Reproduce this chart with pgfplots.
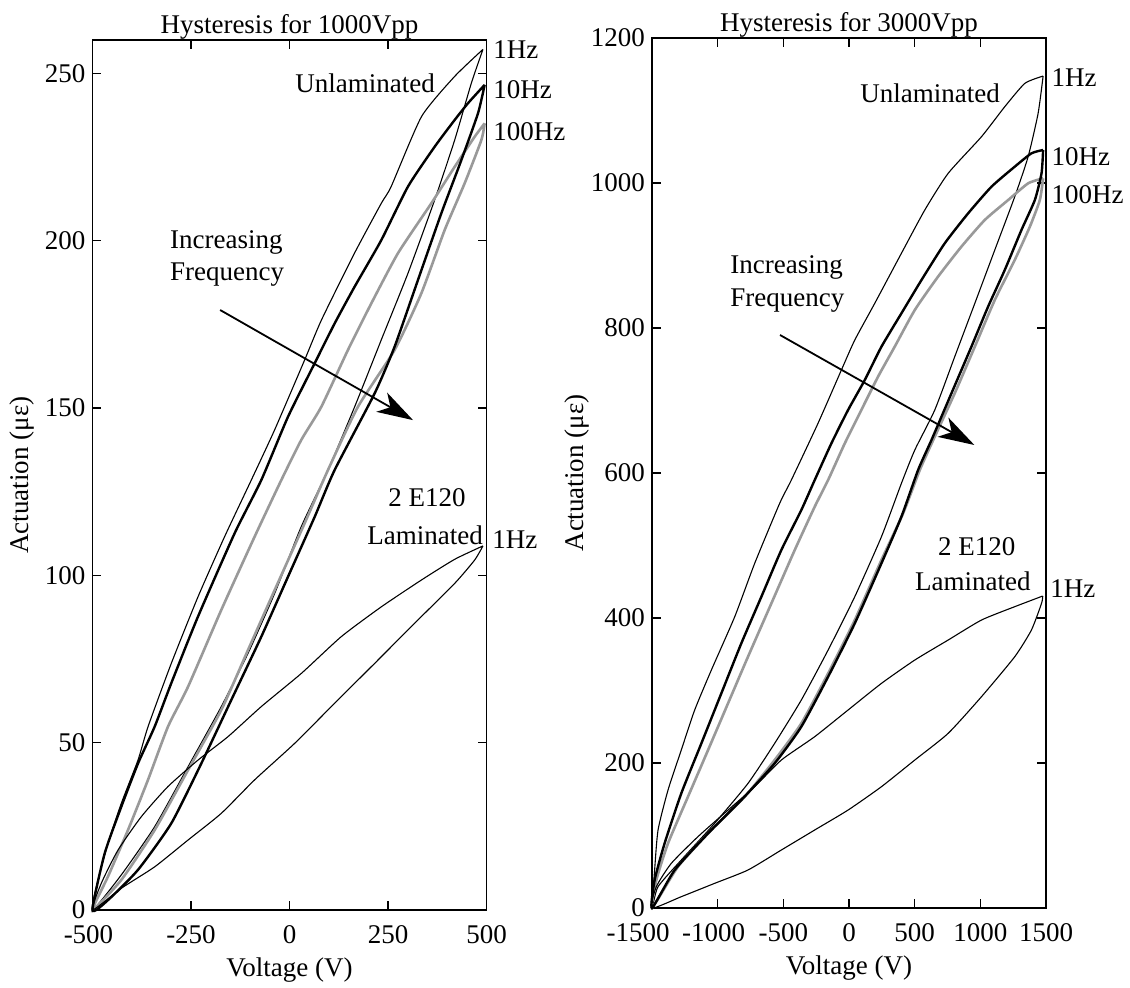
\documentclass[border=0pt]{standalone}
\usepackage{fontspec}
\setmainfont{Liberation Serif}
\usepackage{pgfplots}
\pgfplotsset{compat=1.18}
\usetikzlibrary{arrows.meta}
\newcommand{\fs}{\fontsize{13.5}{16}\selectfont}
\tikzset{lab/.style={font=\fs, inner sep=0pt}}
\pgfplotsset{
  hyst/.style={
    scale only axis, width=197pt, height=435pt, anchor=south west,
    clip=false,
    axis line style={line width=0.75pt},
    major tick style={line width=0.7pt, black},
    major tick length=4.5pt,
    tick align=inside,
    /pgf/number format/assume math mode=true,
    /pgf/number format/1000 sep={},
    tick label style={font=\fs},
    xticklabel style={yshift=-4pt},
    label style={font=\fs},
    every axis title shift=0pt,
    title style={font=\fs, at={(axis description cs:0.5,1)}, anchor=base, inner sep=0pt, yshift=3pt},
    xlabel style={at={(axis description cs:0.5,-0.069)}, anchor=center},
  },
  thinl/.style={black, line width=0.55pt, smooth, tension=0.35},
  thickl/.style={black, line width=1.2pt, smooth, tension=0.35},
  grayl/.style={black!40, line width=1.3pt, smooth, tension=0.35},
  arr/.style={black, line width=0.9pt, -{Stealth[length=18pt,width=11pt,inset=5pt]}},
}
\begin{document}
\begin{tikzpicture}
\useasboundingbox (0,0) rectangle (565pt,494pt);
% ---------------- Left panel ----------------
\begin{axis}[hyst, at={(46.25pt,39pt)},
  xmin=-500, xmax=500, ymin=0, ymax=260,
  xtick={-500,-250,0,250,500}, ytick={0,50,100,150,200,250},
  xticklabels={{-500\kern4pt},-250,0,250,500},
  title={Hysteresis for 1000Vpp},
  xlabel={Voltage (V)}, ylabel={Actuation (με)},
  ylabel style={at={(axis description cs:-0.179,0.5)}, anchor=center}]
% 1 Hz unlaminated
\addplot[thinl] coordinates {(491,257.2) (419,249.1) (335,237.1) (258,216.2) (233,211.2) (165,196.3) (81,176.3) (38.5,164.4) (-37.7,143.5) (-96.9,128.5) (-164.6,111.6) (-232.2,93.6) (-300,73.7) (-359,54.8) (-384.5,44.8) (-426.8,31.9) (-460.7,19.9) (-486,9.0) (-500,0)
 (-426.8,10.5) (-342.2,24.9) (-257.6,42.8) (-173,60.8) (-105.3,76.7) (-37.7,94.6) (30,114.6) (97.7,131.5) (165.4,150.4) (233,170.4) (300.7,190.3) (368.4,212.2) (419.2,230.1) (461.5,247.1) (491,257.2)};
% 100 Hz
\addplot[grayl] coordinates {(495.3,235.1) (470,231.1) (419.2,222.1) (360,211.2) (275.4,196.3) (207.7,181.3) (148.5,167.4) (80.8,150.4) (30,140.5) (-20.7,128.5) (-88.4,111.6) (-173,89.7) (-257.6,66.7) (-308.4,54.8) (-359.1,38.9) (-409.9,23.9) (-460.7,10.0) (-500,0)
 (-426.8,9.0) (-342.2,23.9) (-257.6,41.8) (-173,59.8) (-105.3,77.7) (-37.7,95.6) (38.5,115.6) (97.7,131.5) (173.8,150.4) (266.9,167.4) (334.6,184.3) (393.8,203.2) (444.6,217.2) (486.9,230.1) (495.3,235.1)};
% 10 Hz
\addplot[thickl] coordinates {(495.3,246.6) (453,241.1) (419.2,236.1) (368.4,228.1) (300.7,216.2) (233,200.2) (165.4,186.3) (114.6,175.3) (63.9,163.4) (-3.8,147.4) (-71.5,128.5) (-139.2,112.6) (-232.2,87.7) (-300,67.8) (-342.2,54.8) (-384.5,43.8) (-426.8,30.9) (-469.1,16.9) (-500,0)
 (-460.3,3.0) (-384.5,12.0) (-300,25.9) (-223.8,43.8) (-147.6,62.8) (-71.5,81.7) (-3.8,99.6) (63.9,117.5) (114.6,131.5) (216.1,154.4) (266.9,168.4) (326.1,188.3) (385.3,208.2) (436.1,224.1) (478.4,238.1) (495.3,246.6)};
% laminated 1 Hz
\addplot[thinl] coordinates {(491,108.8) (419.2,104.8) (334.6,98.6) (233,90.6) (131.5,81.7) (30,70.7) (-71.5,60.8) (-156.1,51.8) (-232.2,44.8) (-308.4,36.9) (-376,27.9) (-435.3,17.9) (-477.6,8.0) (-500,0)
 (-426.8,6.5) (-342.2,12.9) (-257.6,20.9) (-173,28.9) (-88.4,38.9) (13.1,49.8) (114.6,61.8) (216.1,73.7) (317.6,85.7) (419.2,97.6) (470,104.6) (491,108.8)};
% arrow
\addplot[arr] coordinates {(-176,179.3) (313.5,146.4)};
\node[lab] at (axis cs:191.6,247) {Unlaminated};
\node[lab, anchor=west] at (axis cs:516.5,257) {1Hz};
\node[lab, anchor=west] at (axis cs:516.5,245.1) {10Hz};
\node[lab, anchor=west] at (axis cs:516.5,232.5) {100Hz};
\node[lab, anchor=west, align=left] at (axis cs:-304,194.6) {Increasing\\Frequency};
\node[lab] at (axis cs:349,123.1) {2 E120};
\node[lab] at (axis cs:344,112.1) {Laminated};
\node[lab, anchor=west] at (axis cs:514,110.6) {1Hz};
\end{axis}
% ---------------- Right panel ----------------
\begin{axis}[hyst, at={(326pt,40pt)},
  xmin=-1500, xmax=1500, ymin=0, ymax=1200,
  xtick={-1500,-1000,-500,0,500,1000,1500}, ytick={0,200,400,600,800,1000,1200},
  xticklabels={{-1500\kern14pt},{-1000\kern4pt},-500,0,500,1000,1500},
  title={Hysteresis for 3000Vpp},
  xlabel={Voltage (V)}, ylabel={Actuation (με)},
  ylabel style={at={(axis description cs:-0.19,0.5)}, anchor=center}]
% 1 Hz unlaminated
\addplot[thinl] coordinates {(1478,1147.5) (1339,1137.4) (1186,1105.2) (1009,1063.9) (755,1013.3) (577,962.7) (399,903.0) (196,834.0) (44,783.4) (-58,742.0) (-236,668.5) (-439,590.3) (-528,558.1) (-718,475.4) (-870,401.8) (-1048,328.2) (-1175,273.1) (-1277,217.9) (-1378,162.7) (-1454,107.6) (-1480,52.4) (-1500,0)
 (-1454,29.4) (-1277,66.2) (-1023,116.8) (-769,171.9) (-566,227.1) (-363,286.9) (-159,355.8) (44,429.4) (247,512.1) (399,585.7) (501,631.7) (653,686.9) (805,760.4) (958,834.0) (1110,907.6) (1262,981.1) (1364,1036.3) (1440,1096.1) (1478,1147.5)};
% 100 Hz
\addplot[grayl] coordinates {(1478,1006.4) (1364,999.5) (1212,976.5) (1034,949.0) (856,912.2) (678,870.8) (501,824.8) (348,774.2) (221,732.8) (94,686.9) (-32,640.9) (-159,590.3) (-261,553.5) (-413,493.8) (-591,420.2) (-769,346.6) (-921,282.3) (-1073,217.9) (-1226,153.5) (-1378,89.2) (-1467,38.6) (-1500,0)
 (-1302,57.0) (-1048,107.6) (-794,153.5) (-566,204.1) (-363,254.7) (-159,323.6) (44,397.2) (247,480.0) (412,544.3) (539,604.1) (653,650.1) (805,709.9) (958,774.2) (1110,838.6) (1262,893.8) (1377,939.7) (1453,976.5) (1478,1006.4)};
% 10 Hz
\addplot[thickl] coordinates {(1478,1045.5) (1389,1040.9) (1262,1022.5) (1085,994.9) (907,958.1) (729,916.8) (552,866.2) (399,820.2) (247,774.2) (120,728.2) (-7,686.9) (-134,640.9) (-261,590.3) (-363,548.9) (-515,493.8) (-667,429.4) (-820,365.0) (-972,296.1) (-1124,227.1) (-1277,158.1) (-1404,89.2) (-1480,38.6) (-1500,0)
 (-1327,52.4) (-1073,103.0) (-820,148.9) (-566,199.5) (-363,250.1) (-159,319.0) (44,392.6) (247,475.4) (399,539.7) (526,604.1) (628,645.5) (780,709.9) (932,774.2) (1059,829.4) (1186,880.0) (1313,935.1) (1415,976.5) (1466,1013.3) (1478,1045.5)};
% laminated 1 Hz
\addplot[thinl] coordinates {(1475,430.3) (1262,415.6) (1009,397.2) (755,369.6) (501,342.0) (247,309.8) (-7,273.1) (-261,236.3) (-515,204.1) (-718,167.3) (-921,135.1) (-1150,98.4) (-1353,61.6) (-1467,29.4) (-1500,0)
 (-1277,15.6) (-1023,34.0) (-769,52.4) (-515,80.0) (-261,107.6) (-7,135.1) (247,167.3) (501,204.1) (755,240.9) (1009,291.5) (1262,346.6) (1389,383.4) (1466,420.2) (1475,430.3)};
% arrow
\addplot[arr] coordinates {(-525,790.3) (954.6,638.6)};
\node[lab] at (axis cs:617,1123.7) {Unlaminated};
\node[lab, anchor=west] at (axis cs:1539,1145) {1Hz};
\node[lab, anchor=west] at (axis cs:1539,1037) {10Hz};
\node[lab, anchor=west] at (axis cs:1539,984) {100Hz};
\node[lab, anchor=west, align=left] at (axis cs:-906,860.7) {Increasing\\Frequency};
\node[lab] at (axis cs:973,498) {2 E120};
\node[lab] at (axis cs:943,450) {Laminated};
\node[lab, anchor=west] at (axis cs:1531,441) {1Hz};
\end{axis}
\end{tikzpicture}
\end{document}
